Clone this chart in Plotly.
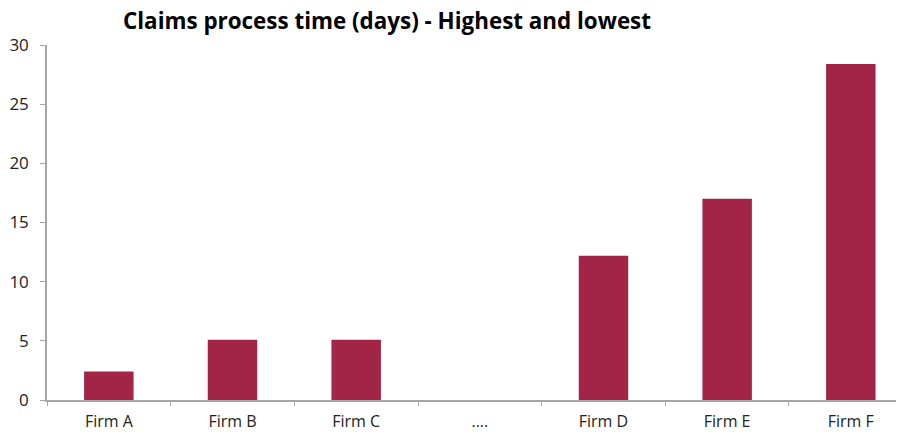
import plotly.graph_objects as go

categories = ["Firm A", "Firm B", "Firm C", "....", "Firm D", "Firm E", "Firm F"]
values = [2.4, 5.1, 5.1, None, 12.2, 17.0, 28.4]
y_ticks = [0, 5, 10, 15, 20, 25, 30]

fig = go.Figure(go.Bar(
    x=categories, y=values,
    marker=dict(color="#A22446", line=dict(width=0)),
    width=0.4,
))

W, H = 896, 424
axis_color = "#A6A6A6"
fig.update_layout(
    width=W, height=H,
    margin=dict(l=39, r=0, t=37, b=32, autoexpand=False),
    paper_bgcolor="white", plot_bgcolor="white",
    font=dict(family="Open Sans, DejaVu Sans, sans-serif", size=16, color="#222222"),
    title=dict(text="<b>Claims process time (days) - Highest and lowest</b>",
               x=379 / W, xanchor="center", xref="container",
               y=1 - 13 / H, yref="container", yanchor="middle",
               font=dict(size=22.4, color="#000000")),
    showlegend=False,
)
fig.update_xaxes(
    type="category", range=[-0.5, 6.43], showline=True, linecolor=axis_color, linewidth=1.5,
    ticks="outside", tickson="boundaries", ticklen=4, tickcolor=axis_color,
    showgrid=False, tickfont=dict(size=16), automargin=False, ticklabelstandoff=6,
)
fig.update_yaxes(
    range=[0, 30], tickvals=y_ticks, showline=True, linecolor=axis_color, linewidth=1.5,
    ticks="outside", ticklen=5, tickcolor=axis_color, showgrid=False, zeroline=False,
    tickfont=dict(size=17), automargin=False, ticklabelstandoff=8,
)
fig.write_html("out.html")
